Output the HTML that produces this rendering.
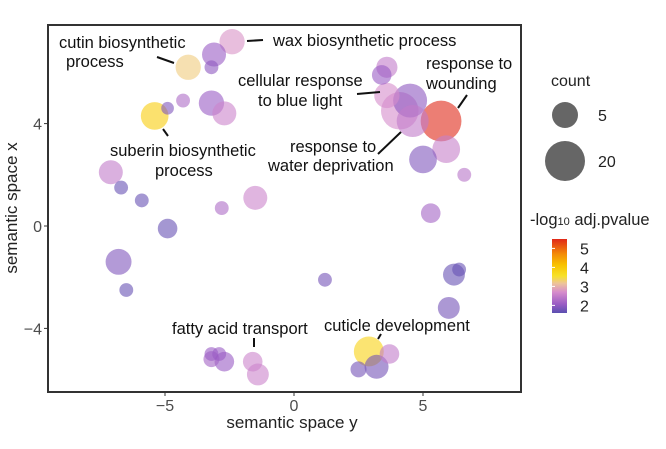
<!DOCTYPE html>
<html><head><meta charset="utf-8">
<style>
body{margin:0;background:#fff;}
svg{display:block;font-family:"Liberation Sans",Arial,sans-serif;}
</style></head>
<body>
<svg id="chart" width="666" height="449" viewBox="0 0 666 449">
<defs>
<linearGradient id="cbar" x1="0" y1="1" x2="0" y2="0">
<stop offset="0" stop-color="#5a4fb0"/>
<stop offset="0.12" stop-color="#9a5cc4"/>
<stop offset="0.28" stop-color="#d68ccc"/>
<stop offset="0.40" stop-color="#edc49a"/>
<stop offset="0.50" stop-color="#f7e228"/>
<stop offset="0.65" stop-color="#f8c200"/>
<stop offset="0.80" stop-color="#f38a08"/>
<stop offset="1" stop-color="#e02818"/>
</linearGradient>
</defs>
<g id="marks"></g>
<rect x="48" y="25" width="473" height="367" fill="none" stroke="#333" stroke-width="2"/>
<g id="axes"></g>
<g id="labels" font-size="16.5" fill="#111"></g>
<text x="292" y="428" text-anchor="middle" font-size="17" fill="#222">semantic space y</text>
<text transform="translate(17,208) rotate(-90)" text-anchor="middle" font-size="17" fill="#222">semantic space x</text>
<g>
<text x="551" y="86" font-size="16" fill="#222">count</text>
<circle cx="565" cy="115" r="13" fill="#666"/>
<text x="598" y="121" font-size="16" fill="#222">5</text>
<circle cx="565" cy="161" r="20" fill="#666"/>
<text x="598" y="167" font-size="16" fill="#222">20</text>
</g>
<g>
<text x="530" y="225" font-size="16.5" fill="#222">-log<tspan font-size="11">10</tspan> adj.pvalue</text>
<rect x="552" y="239" width="15" height="74" fill="url(#cbar)"/>
<g id="cbticks" font-size="16" fill="#222"></g>
</g>
</svg>
<script>
const xs=[-2.4,-3.1,-3.2,-4.1,-4.3,-4.9,-5.4,-3.2,-2.7,3.6,3.4,3.6,4.5,4.1,4.6,5.7,5.9,5.0,6.6,-7.1,-6.7,-5.9,-1.5,-2.8,-4.9,5.3,-6.8,-6.5,1.2,6.4,6.2,6.0,-3.2,-2.9,-3.2,-2.7,-1.6,-1.4,2.9,3.7,2.5,3.2];
const ys=[7.2,6.7,6.2,6.2,4.9,4.6,4.3,4.8,4.4,6.2,5.9,5.1,4.9,4.5,4.1,4.1,3.0,2.6,2.0,2.1,1.5,1.0,1.1,0.7,-0.1,0.5,-1.4,-2.5,-2.1,-1.7,-1.9,-3.2,-5.0,-5.0,-5.2,-5.3,-5.3,-5.8,-4.9,-5.0,-5.6,-5.5];
const counts=[10,9,3,10,3,2.5,12,10,9,7,6,10,18,22,16,26,12,12,3,9,3,3,9,3,6,6,10.5,3,3,3,7.5,7.5,3,3,4,6,6,7.5,14,6,4,9];
const values=[2.75,2.1,2.0,3.2,2.3,1.9,3.9,2.1,2.6,2.5,2.1,2.7,2.0,2.7,2.5,5.5,2.55,1.9,2.4,2.5,1.7,1.7,2.6,2.3,1.7,2.2,1.9,1.7,1.8,1.7,1.7,1.8,2.1,2.1,2.2,2.1,2.6,2.6,3.8,2.5,1.8,1.8];
const xTicks=[-5,0,5], yTicks=[4,0,-4], cbTicks=[5,4,3,2];
const xMap=v=>294+v*25.8, yMap=v=>226-v*25.6, rMap=c=>4*Math.sqrt(c), cbMap=v=>313-(v-1.6)*19;
const stops=[[1.6,[90,79,176]],[2.1,[154,92,196]],[2.7,[214,140,204]],[3.1,[237,196,154]],[3.5,[247,226,40]],[4.1,[248,194,0]],[4.7,[243,138,8]],[5.5,[224,40,24]]];
function col(v){for(let i=0;i<stops.length-1;i++){const a=stops[i],b=stops[i+1];if(v<=b[0]){const t=Math.max(0,(v-a[0])/(b[0]-a[0]));return 'rgb('+a[1].map((c,k)=>Math.round(c+(b[1][k]-c)*t)).join(',')+')';}}return 'rgb(224,40,24)';}
const NS='http://www.w3.org/2000/svg';
const g=document.getElementById('marks');
const order=xs.map((_,i)=>i).sort((a,b)=>counts[b]-counts[a]);
order.forEach(i=>{
const c=document.createElementNS(NS,'circle');
c.setAttribute('cx',xMap(xs[i]));c.setAttribute('cy',yMap(ys[i]));c.setAttribute('r',rMap(counts[i]));
c.setAttribute('fill',col(values[i]));c.setAttribute('fill-opacity','0.6');


g.appendChild(c);});
const ax=document.getElementById('axes');
xTicks.forEach(v=>{
const l=document.createElementNS(NS,'line');l.setAttribute('x1',xMap(v));l.setAttribute('x2',xMap(v));l.setAttribute('y1',392);l.setAttribute('y2',396);l.setAttribute('stroke','#333');


ax.appendChild(l);
const t=document.createElementNS(NS,'text');t.setAttribute('x',xMap(v));t.setAttribute('y',411);t.setAttribute('text-anchor','middle');t.setAttribute('font-size','16');t.setAttribute('fill','#4d4d4d');t.textContent=v<0?'\u2212'+(-v):v;


ax.appendChild(t);});
yTicks.forEach(v=>{
const l=document.createElementNS(NS,'line');l.setAttribute('x1',44);l.setAttribute('x2',48);l.setAttribute('y1',yMap(v));l.setAttribute('y2',yMap(v));l.setAttribute('stroke','#333');


ax.appendChild(l);
const t=document.createElementNS(NS,'text');t.setAttribute('x',42);t.setAttribute('y',yMap(v)+6);t.setAttribute('text-anchor','end');t.setAttribute('font-size','16');t.setAttribute('fill','#4d4d4d');t.textContent=v<0?'\u2212'+(-v):v;


ax.appendChild(t);});
const cb=document.getElementById('cbticks');
cbTicks.forEach(v=>{
const t=document.createElementNS(NS,'text');t.setAttribute('x',580);t.setAttribute('y',cbMap(v)+6);t.textContent=v;


cb.appendChild(t);
const l=document.createElementNS(NS,'line');l.setAttribute('x1',552);l.setAttribute('x2',555);l.setAttribute('y1',cbMap(v));l.setAttribute('y2',cbMap(v));l.setAttribute('stroke','#fff');


cb.appendChild(l);});
const labels=[
[['cutin biosynthetic',59,48],['process',66,67],[157,57,174,63]],
[['wax biosynthetic process',273,46],[247,41,263,40]],
[['cellular response',238,86],['to blue light',258,106],[357,94,380,92]],
[['response to',426,69],['wounding',426,89],[467,95,458,108]],
[['suberin biosynthetic',110,156],['process',155,176],[163,129,168,136]],
[['response to',290,152],['water deprivation',268,171],[401,132,378,154]],
[['fatty acid transport',172,334],[254,338,254,347]],
[['cuticle development',324,331],[381,334,378,339]]];
const lg=document.getElementById('labels');
labels.forEach(L=>{L.forEach(p=>{
if(typeof p[0]==='string'){const t=document.createElementNS(NS,'text');t.setAttribute('x',p[1]);t.setAttribute('y',p[2]);t.textContent=p[0];


lg.appendChild(t);}
else{const l=document.createElementNS(NS,'line');l.setAttribute('x1',p[0]);l.setAttribute('y1',p[1]);l.setAttribute('x2',p[2]);l.setAttribute('y2',p[3]);l.setAttribute('stroke','#111');l.setAttribute('stroke-width','2');


lg.appendChild(l);}});});
</script>
</body></html>
